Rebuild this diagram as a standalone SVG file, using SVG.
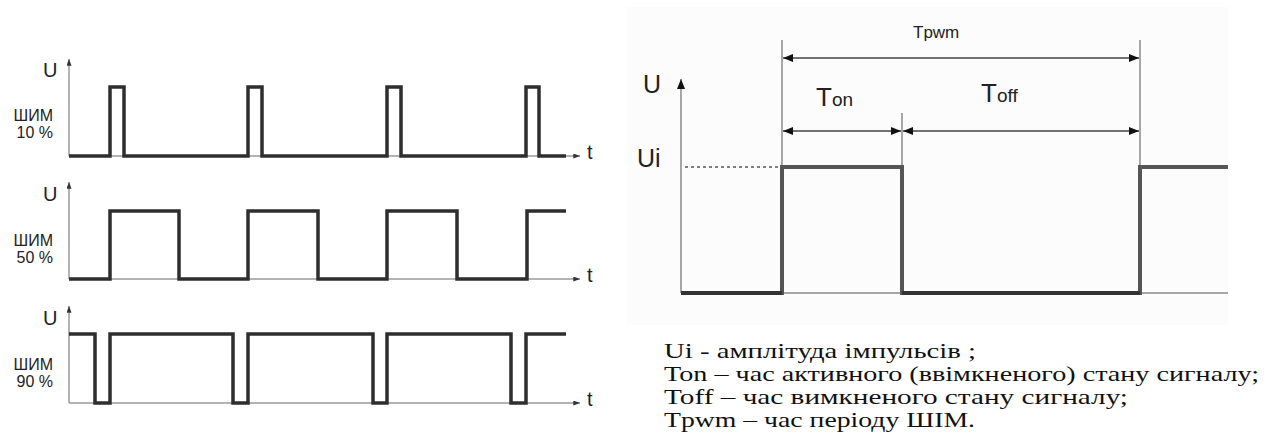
<svg xmlns="http://www.w3.org/2000/svg" width="1265" height="447" viewBox="0 0 1265 447">
<style>
.wave{fill:none;stroke:#2e2e2e;stroke-width:3.5;stroke-linejoin:miter}
.axis{fill:none;stroke:#9a9a9a;stroke-width:1.5}
.lbl{font-family:"Liberation Sans",Arial,sans-serif;fill:#222}
.wave2{fill:none;stroke:#555;stroke-width:4}
.thin{fill:none;stroke:#8a8a8a;stroke-width:1.5}
.dim{fill:none;stroke:#444;stroke-width:1.5}
.note{font-family:"Liberation Serif","Times New Roman",serif;font-size:22px;fill:#111}
</style>
<defs>
<marker id="ah" viewBox="0 0 8 6" refX="8" refY="3" markerWidth="7" markerHeight="5" markerUnits="userSpaceOnUse" orient="auto"><path d="M0,0 L8,3 L0,6 z" fill="#333"/></marker>
<marker id="ahb" viewBox="0 0 10 8" refX="10" refY="4" markerWidth="10" markerHeight="9" markerUnits="userSpaceOnUse" orient="auto-start-reverse"><path d="M0,0 L10,4 L0,8 z" fill="#111"/></marker>
</defs>

<g id="chart-10">
<path class="axis" d="M69,156 V59" marker-end="url(#ah)"/>
<path class="axis" d="M69,156 H580" marker-end="url(#ah)"/>
<path class="wave" d="M69,156 H110 V87 H124 V156 H248 V87 H262 V156 H387 V87 H401 V156 H526 V87 H539 V156 H566"/>
<text class="lbl" x="43" y="77" font-size="20">U</text>
<text class="lbl" x="53" y="121" font-size="16" text-anchor="end">ШИМ</text>
<text class="lbl" x="53" y="138" font-size="16" text-anchor="end">10 %</text>
<text class="lbl" x="587" y="159" font-size="20">t</text>
</g>

<g id="chart-50">
<path class="axis" d="M69,279 V182" marker-end="url(#ah)"/>
<path class="axis" d="M69,279 H580" marker-end="url(#ah)"/>
<path class="wave" d="M69,279 H110 V211 H179 V279 H248 V211 H318 V279 H387 V211 H457 V279 H527 V211 H566"/>
<text class="lbl" x="43" y="201" font-size="20">U</text>
<text class="lbl" x="53" y="246" font-size="16" text-anchor="end">ШИМ</text>
<text class="lbl" x="53" y="263" font-size="16" text-anchor="end">50 %</text>
<text class="lbl" x="587" y="282" font-size="20">t</text>
</g>

<g id="chart-90">
<path class="axis" d="M69,403 V306" marker-end="url(#ah)"/>
<path class="axis" d="M69,403 H580" marker-end="url(#ah)"/>
<path class="wave" d="M69,334 H95 V403 H110 V334 H233 V403 H248 V334 H373 V403 H387 V334 H511 V403 H526 V334 H566"/>
<text class="lbl" x="43" y="325" font-size="20">U</text>
<text class="lbl" x="53" y="370" font-size="16" text-anchor="end">ШИМ</text>
<text class="lbl" x="53" y="387" font-size="16" text-anchor="end">90 %</text>
<text class="lbl" x="587" y="406" font-size="20">t</text>
</g>

<g id="pwm-detail">
<rect x="627" y="7" width="601" height="318" fill="#fcfcfc"/>
<path class="thin" d="M681,293 H1228"/>
<path class="thin" d="M681,293 V79" stroke="#777" stroke-width="2" marker-end="url(#ahb)"/>
<path d="M685,167 H780" stroke="#555" stroke-width="1.5" stroke-dasharray="3,3"/>
<path class="thin" d="M782,40 V167 M1140,40 V167 M902,113 V167"/>
<path class="wave2" d="M681,293 H782 V167 H902 V293 H1140 V167 H1228"/>
<path d="M681,293 H782 M902,293 H1140" stroke="#333" stroke-width="4"/>
<text class="lbl" x="643" y="93" font-size="25">U</text>
<text class="lbl" x="637" y="167" font-size="25">Ui</text>
</g>

<g id="connectors">
<path class="dim" d="M783,58 H1139" marker-start="url(#ahb)" marker-end="url(#ahb)"/>
<path class="dim" d="M783,131 H901" marker-start="url(#ahb)" marker-end="url(#ahb)"/>
<path class="dim" d="M903,131 H1139" marker-start="url(#ahb)" marker-end="url(#ahb)"/>
<text class="lbl" x="913" y="38" font-size="17">Tpwm</text>
<text class="lbl" x="816" y="106" font-size="26">T<tspan font-size="19">on</tspan></text>
<text class="lbl" x="981" y="102" font-size="26">T<tspan font-size="19">off</tspan></text>
</g>

<g id="legend">
<text class="note" x="664" y="358" textLength="312" lengthAdjust="spacingAndGlyphs">Ui - амплітуда імпульсів ;</text>
<text class="note" x="664" y="381" textLength="595" lengthAdjust="spacingAndGlyphs">Ton – час активного (ввімкненого) стану сигналу;</text>
<text class="note" x="664" y="404" textLength="464" lengthAdjust="spacingAndGlyphs">Toff – час вимкненого стану сигналу;</text>
<text class="note" x="664" y="427" textLength="311" lengthAdjust="spacingAndGlyphs">Tpwm – час періоду ШІМ.</text>
</g>
</svg>
